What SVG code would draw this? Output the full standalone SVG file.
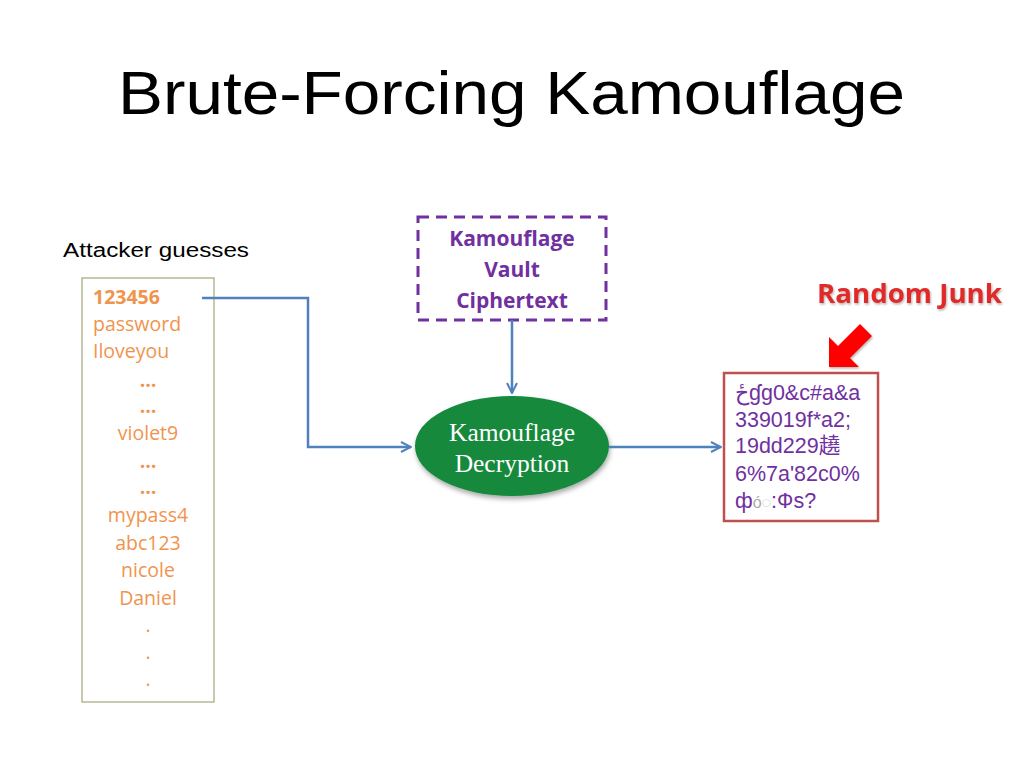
<svg xmlns="http://www.w3.org/2000/svg" width="1024" height="768" viewBox="0 0 1024 768">
<style>
.title{font-family:"URW Gothic","Liberation Sans",sans-serif;font-size:62px;fill:#000}
.lbl{font-family:"Liberation Sans",sans-serif;font-size:20px;fill:#000}
.g{font-family:"Open Sans","Liberation Sans",sans-serif;font-size:19.5px;fill:#f0944d}
.gc{text-anchor:middle}
.el{font-weight:bold}
.vault{font-family:"Open Sans","Liberation Sans",sans-serif;font-size:21px;font-weight:bold;fill:#7030a0;text-anchor:middle}
.dec{font-family:"Liberation Serif",serif;font-size:25.5px;fill:#fff;text-anchor:middle}
.junk{font-family:"Liberation Sans","Noto Sans CJK SC",sans-serif;font-size:21.5px;fill:#7030a0}
.conn{fill:none;stroke:#4f81bd;stroke-width:2.5}
</style>
<defs>
<marker id="ah" viewBox="0 0 10 10" refX="9" refY="5" markerWidth="5" markerHeight="5" orient="auto" markerUnits="strokeWidth">
<path d="M1,1 L9,5 L1,9" fill="none" stroke="#4f81bd" stroke-width="1.6"/>
</marker>
<filter id="sh" x="-20%" y="-20%" width="140%" height="150%">
<feDropShadow dx="1" dy="3" stdDeviation="2.5" flood-color="#000" flood-opacity="0.35"/>
</filter>
<filter id="tsh" x="-10%" y="-20%" width="120%" height="150%">
<feDropShadow dx="1" dy="1.5" stdDeviation="1" flood-color="#000" flood-opacity="0.3"/>
</filter>
</defs>
<rect width="1024" height="768" fill="#fff"/>
<text class="title" x="118" y="114" textLength="787" lengthAdjust="spacingAndGlyphs">Brute-Forcing Kamouflage</text>
<text class="lbl" x="63" y="257" textLength="186" lengthAdjust="spacingAndGlyphs">Attacker guesses</text>

<g id="guesses">
<rect x="82" y="278" width="132" height="424" fill="#fff" stroke="#a5a57a" stroke-width="1.2"/>
<text class="g" x="93" y="304" font-weight="bold">123456</text>
<text class="g" x="93" y="331">password</text>
<text class="g" x="93" y="358">Iloveyou</text>
<text class="g gc el" x="148" y="387">…</text>
<text class="g gc el" x="148" y="413">…</text>
<text class="g gc" x="148" y="440">violet9</text>
<text class="g gc el" x="148" y="468">…</text>
<text class="g gc el" x="148" y="494">…</text>
<text class="g gc" x="148" y="522">mypass4</text>
<text class="g gc" x="148" y="550">abc123</text>
<text class="g gc" x="148" y="577">nicole</text>
<text class="g gc" x="148" y="605">Daniel</text>
<text class="g gc" x="148" y="632">.</text>
<text class="g gc" x="148" y="659">.</text>
<text class="g gc" x="148" y="686">.</text>
</g>

<g id="vault">
<rect x="418" y="217" width="188" height="103" fill="#fff" stroke="#7030a0" stroke-width="3" stroke-dasharray="11,7"/>
<text class="vault" x="512" y="246">Kamouflage</text>
<text class="vault" x="512" y="277">Vault</text>
<text class="vault" x="512" y="308">Ciphertext</text>
</g>

<g id="decryption">
<ellipse cx="512" cy="446" rx="97" ry="50" fill="#12893c" filter="url(#sh)"/>
<text class="dec" x="512" y="441">Kamouflage</text>
<text class="dec" x="512" y="472">Decryption</text>
</g>

<g id="junkbox">
<rect x="724" y="373" width="154" height="148" fill="#fff" stroke="#c0504d" stroke-width="2.5"/>
<text class="junk" x="735" y="400">ځɠg0&amp;c#a&amp;a</text>
<text class="junk" x="735" y="427">339019f*a2;</text>
<text class="junk" x="735" y="453">19dd229趬</text>
<text class="junk" x="735" y="481">6%7a'82c0%</text>
<text class="junk" x="735" y="508">ф<tspan fill="#aaa" font-size="16">ó◌</tspan>:Фs?</text>
</g>

<g id="randomjunk">
<text x="817" y="303" font-family="Open Sans,Liberation Sans,sans-serif" font-size="27" font-weight="bold" fill="#e02a2a" filter="url(#tsh)" textLength="185" lengthAdjust="spacingAndGlyphs">Random Junk</text>
<polygon points="829,367 829,337 838,346 860,324 872,336 850,358 859,367" fill="#ff0000" filter="url(#tsh)"/>
</g>

<g id="connectors">
<polyline class="conn" points="202,298 308,298 308,447 411,447" marker-end="url(#ah)"/>
<line class="conn" x1="512" y1="320" x2="512" y2="393" marker-end="url(#ah)"/>
<line class="conn" x1="609" y1="447" x2="721" y2="447" marker-end="url(#ah)"/>
</g>
</svg>
